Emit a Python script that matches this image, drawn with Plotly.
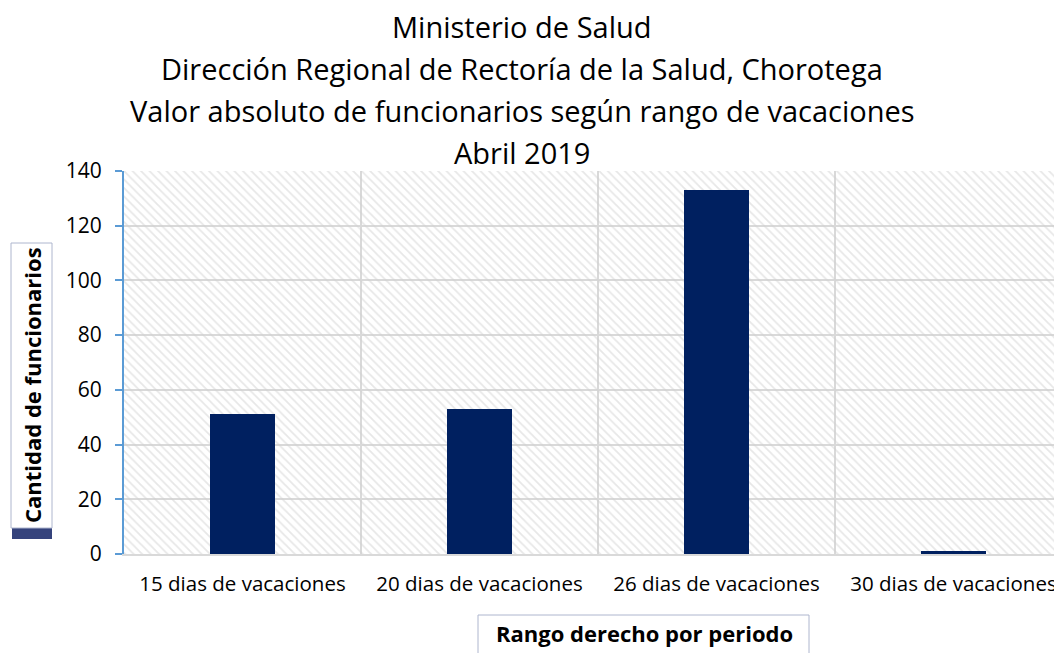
import plotly.graph_objects as go

categories = ["15 dias de vacaciones", "20 dias de vacaciones", "26 dias de vacaciones", "30 dias de vacaciones"]
values = [51, 53, 133, 1]
y_ticks = [0, 20, 40, 60, 80, 100, 120, 140]
title_lines = [
    "Ministerio de Salud",
    "Dirección Regional de Rectoría de la Salud, Chorotega",
    "Valor absoluto de funcionarios según rango de vacaciones",
    "Abril 2019",
]
y_title = "Cantidad de funcionarios"
x_title = "Rango derecho por periodo"

FONT = "Open Sans, sans-serif"
OFF = 8  # page body margin
W, H = 1062 - OFF, 653 - OFF
L, T = 124 - OFF, 171 - OFF
PLOT_BOTTOM = 554 - OFF
B = H - PLOT_BOTTOM
R = 0
PW, PH = W - L - R, H - T - B

def px(X):
    return (X - OFF - L) / PW

def py(Y):
    return (PLOT_BOTTOM - (Y - OFF)) / PH

fig = go.Figure()

# hatched plot background
fig.add_trace(go.Bar(
    x=categories, y=[max(y_ticks)] * len(categories), width=1,
    marker=dict(color="rgba(0,0,0,0)", line=dict(width=0),
                pattern=dict(shape="\\", fgcolor="#D0D0D0", bgcolor="rgba(0,0,0,0)",
                             size=6, solidity=0.3)),
    hoverinfo="skip", showlegend=False,
))

fig.add_trace(go.Bar(
    x=categories, y=values, width=0.275,
    marker=dict(color="#002060", line=dict(width=0)),
    showlegend=False,
))

fig.update_layout(
    width=W, height=H,
    margin=dict(l=L, r=R, t=T, b=B, autoexpand=False),
    paper_bgcolor="white", plot_bgcolor="white",
    barmode="overlay", bargap=0,
    font=dict(family=FONT, size=21, color="black"),
    xaxis=dict(
        type="category", range=[-0.5, -0.5 + PW / 237.0],
        tickson="boundaries", showgrid=True, gridcolor="#D9D9D9", gridwidth=2,
        ticks="", showline=True, linecolor="#D9D9D9", linewidth=2,
        tickfont=dict(size=20.5), ticklabelstandoff=10,
    ),
    yaxis=dict(
        range=[0, 140], tickvals=y_ticks, showgrid=True, gridcolor="#D9D9D9", gridwidth=2,
        showline=True, linecolor="#5B9BD5", linewidth=2,
        ticks="outside", ticklen=7, tickcolor="#5B9BD5", tickwidth=2,
        tickfont=dict(size=21), ticklabelstandoff=9, zeroline=False,
    ),
)

line_y = [27, 68, 110, 152]
for txt, Y in zip(title_lines, line_y):
    fig.add_annotation(text=txt, xref="paper", yref="paper", x=px(522), y=py(Y),
                       xanchor="center", yanchor="middle", showarrow=False,
                       borderpad=0,
                       font=dict(family=FONT, size=29, color="black"))

# y title box with shadow
fig.add_shape(type="rect", xref="paper", yref="paper",
              x0=px(12), x1=px(52), y0=py(539), y1=py(262),
              fillcolor="#1F2F6E", line=dict(width=0), opacity=0.9, layer="below")
fig.add_shape(type="rect", xref="paper", yref="paper",
              x0=px(11), x1=px(52), y0=py(528), y1=py(243),
              fillcolor="white", line=dict(width=1, color="#AEB6CE"), layer="below")
fig.add_annotation(text="<b>" + y_title + "</b>", textangle=-90,
                   xref="paper", yref="paper", x=px(32), y=py(385),
                   xanchor="center", yanchor="middle", showarrow=False,
                   font=dict(family=FONT, size=22, color="black"))

# x title box
fig.add_shape(type="rect", xref="paper", yref="paper",
              x0=px(478), x1=px(809), y0=py(665), y1=py(615),
              fillcolor="white", line=dict(width=1, color="#AEB6CE"), layer="below")
fig.add_annotation(text="<b>" + x_title + "</b>",
                   xref="paper", yref="paper", x=px(644), y=py(633),
                   xanchor="center", yanchor="middle", showarrow=False,
                   font=dict(family=FONT, size=22, color="black"))

fig.write_html("out.html")
